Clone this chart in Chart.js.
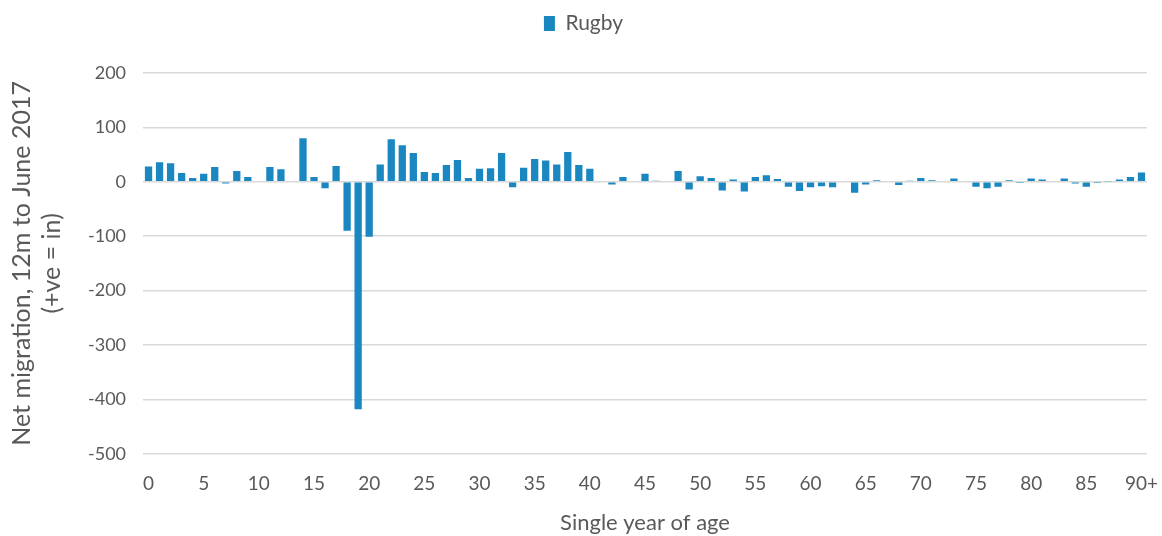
<!DOCTYPE html>
<html>
<head>
<meta charset="utf-8">
<script src="https://cdn.jsdelivr.net/npm/chart.js@4"></script>
<style>
  html, body { margin: 0; padding: 0; background: #fff; }
  #wrap { width: 1162px; height: 536px; }
</style>
</head>
<body>
<div id="wrap"><canvas id="chart" width="1162" height="536"></canvas></div>
<script>
// ages 0..89 then 90+
const AGES = [];
for (let a = 0; a < 90; a++) AGES.push(String(a));
AGES.push("90+");

const RUGBY = [
  28, 36, 34, 16, 7, 15, 27, -3, 20, 9,
  0, 27, 23, 0, 80, 9, -12, 29, -90, -418,
  -101, 32, 78, 67, 53, 18, 16, 31, 40, 7,
  24, 25, 53, -10, 26, 42, 39, 32, 55, 31,
  24, 0, -5, 9, 0, 15, 2, 0, 20, -14,
  10, 7, -16, 4, -18, 9, 12, 5, -9, -17,
  -10, -8, -10, 0, -20, -5, 3, 0, -6, 2,
  7, 3, 0, 6, 0, -9, -12, -9, 3, -2,
  6, 4, 0, 6, -3, -9, -2, 1, 4, 9,
  17
];

const Y_MIN = -500;
const Y_MAX = 200;
const Y_STEP = 100;

const TEXT = "#595959";
const FONT = "Lato, 'Open Sans', sans-serif";

// push the plot down below the legend
const legendGap = {
  id: "legendGap",
  beforeInit(chart) {
    const fit = chart.legend.fit;
    chart.legend.fit = function () {
      fit.bind(chart.legend)();
      this.height += 29;
    };
  }
};

new Chart(document.getElementById("chart").getContext("2d"), {
  type: "bar",
  data: {
    labels: AGES,
    datasets: [{
      label: "Rugby",
      data: RUGBY,
      backgroundColor: "#1B87C1",
      borderWidth: 0,
      barPercentage: 0.66,
      categoryPercentage: 1.0
    }]
  },
  plugins: [legendGap],
  options: {
    responsive: false,
    animation: false,
    layout: { padding: { left: 7, right: 2, top: 5, bottom: 0 } },
    plugins: {
      legend: {
        position: "top",
        labels: {
          color: TEXT,
          font: { family: FONT, size: 21 },
          boxWidth: 11,
          boxHeight: 15,
          padding: 8
        }
      },
      tooltip: { enabled: false }
    },
    scales: {
      x: {
        grid: { display: false },
        border: { display: false },
        afterFit: function (scale) {
          scale.paddingRight = 15;
        },
        ticks: {
          color: TEXT,
          font: { family: FONT, size: 19 },
          autoSkip: false,
          maxRotation: 0,
          padding: 11,
          callback: function (val, idx) {
            return idx % 5 === 0 ? AGES[idx] : "";
          }
        },
        title: {
          display: true,
          text: "Single year of age",
          color: TEXT,
          font: { family: FONT, size: 22 },
          padding: { top: 3, bottom: 0 }
        }
      },
      y: {
        min: Y_MIN,
        max: Y_MAX,
        grid: { color: "#d9d9d9", lineWidth: 1.5, drawTicks: false },
        border: { display: false },
        ticks: {
          stepSize: Y_STEP,
          color: TEXT,
          font: { family: FONT, size: 18 },
          padding: 17
        },
        title: {
          display: true,
          text: ["Net migration, 12m to June 2017", "(+ve = in)"],
          color: TEXT,
          font: { family: FONT, size: 25, lineHeight: 1.2 },
          padding: { top: 0, bottom: 4 }
        }
      }
    }
  }
});
</script>
</body>
</html>
